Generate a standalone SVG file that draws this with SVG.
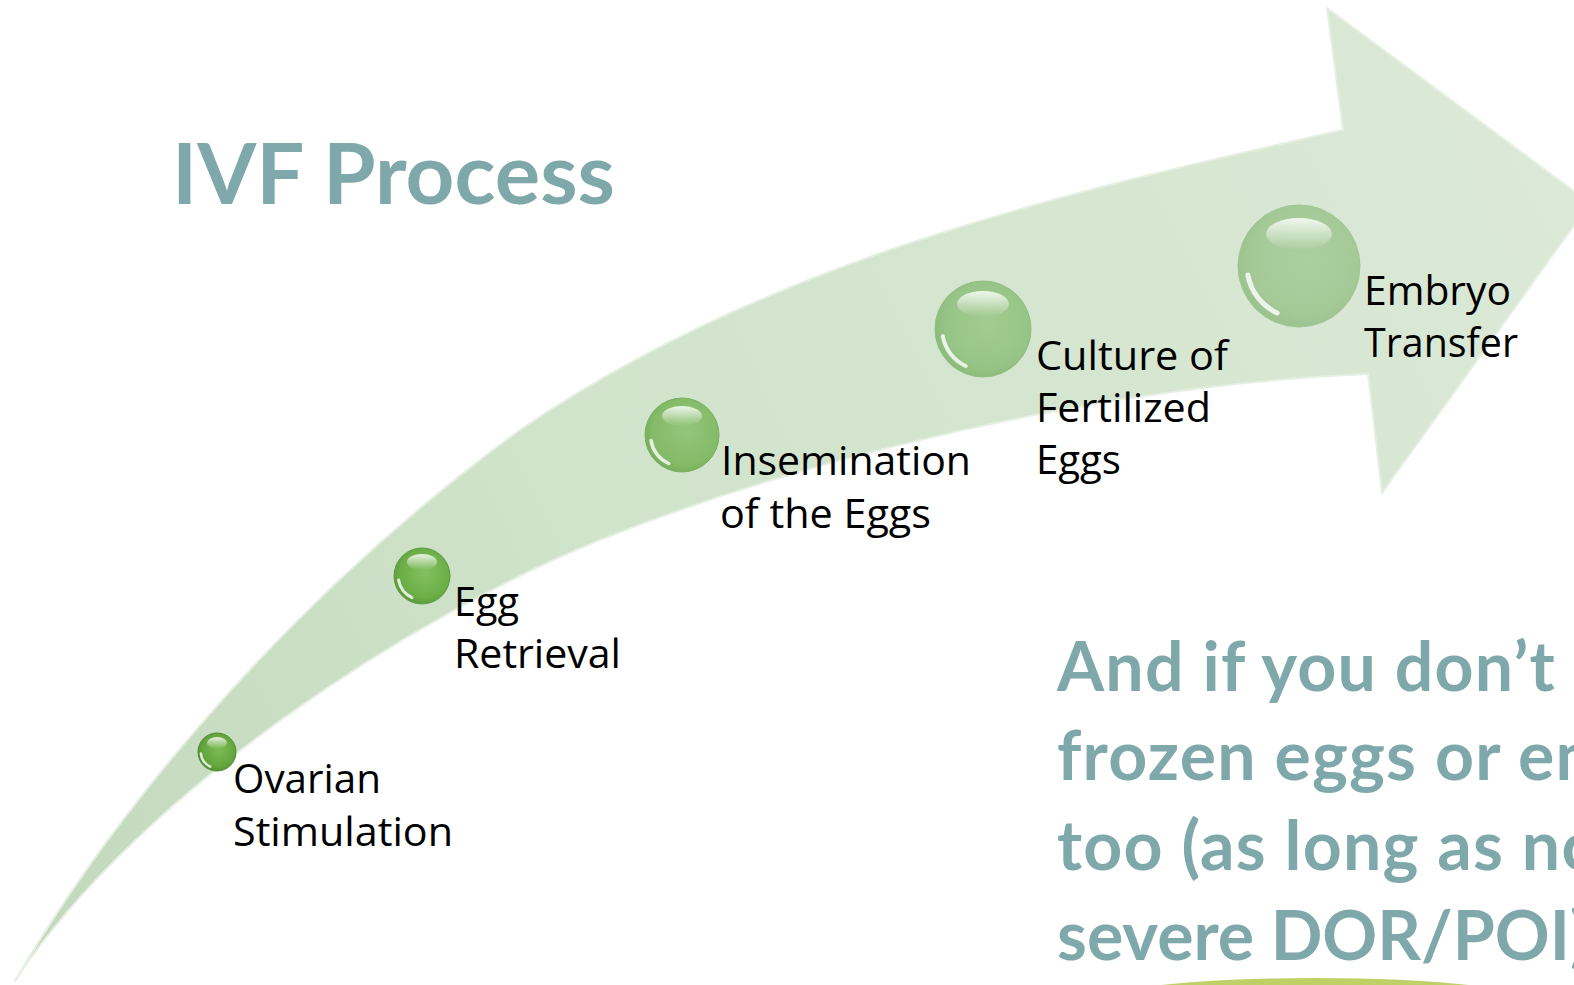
<svg xmlns="http://www.w3.org/2000/svg" width="1574" height="985" viewBox="0 0 1574 985">
  <style>
    .title { font-family: Lato, "Open Sans", "Liberation Sans", sans-serif; font-weight: 700; fill: #7FA8AB; }
    .note { font-family: Lato, "Open Sans", "Liberation Sans", sans-serif; font-weight: 700; fill: #7FA8AB; font-size: 68px; letter-spacing: 1.2px; }
    .label { font-family: "Open Sans", "Liberation Sans", sans-serif; font-size: 40px; fill: #000000; }
    .crescent { fill: none; stroke: #ffffff; stroke-linecap: round; opacity: 0.8; }
  </style>
  <defs>
    <linearGradient id="arrowFill" x1="15" y1="981" x2="1590" y2="200" gradientUnits="userSpaceOnUse">
      <stop offset="0" stop-color="#c2d8bc"/>
      <stop offset="0.4" stop-color="#d0e3cb"/>
      <stop offset="1" stop-color="#dbe9d6"/>
    </linearGradient>
    <linearGradient id="hl" x1="0" y1="0" x2="0" y2="1">
      <stop offset="0" stop-color="#ffffff" stop-opacity="0.85"/>
      <stop offset="1" stop-color="#ffffff" stop-opacity="0"/>
    </linearGradient>
    <radialGradient id="b1" cx="0.55" cy="0.45" r="0.6">
      <stop offset="0" stop-color="#7dbb55"/>
      <stop offset="0.75" stop-color="#62a43c"/>
      <stop offset="1" stop-color="#4b8a2c"/>
    </radialGradient>
    <radialGradient id="b2" cx="0.55" cy="0.45" r="0.6">
      <stop offset="0" stop-color="#84c060"/>
      <stop offset="0.75" stop-color="#6aad46"/>
      <stop offset="1" stop-color="#579738"/>
    </radialGradient>
    <radialGradient id="b3" cx="0.55" cy="0.45" r="0.6">
      <stop offset="0" stop-color="#94c67a"/>
      <stop offset="0.75" stop-color="#84ba68"/>
      <stop offset="1" stop-color="#74ab58"/>
    </radialGradient>
    <radialGradient id="b4" cx="0.55" cy="0.45" r="0.6">
      <stop offset="0" stop-color="#a2cc92"/>
      <stop offset="0.75" stop-color="#96c486"/>
      <stop offset="1" stop-color="#88b878"/>
    </radialGradient>
    <radialGradient id="b5" cx="0.55" cy="0.45" r="0.6">
      <stop offset="0" stop-color="#accf9f"/>
      <stop offset="0.75" stop-color="#a4c997"/>
      <stop offset="1" stop-color="#98bf8b"/>
    </radialGradient>
    <linearGradient id="groundFade" x1="0" y1="0" x2="1" y2="0">
      <stop offset="0" stop-color="#c9d86f" stop-opacity="0"/>
      <stop offset="0.15" stop-color="#b7cb55" stop-opacity="0.9"/>
      <stop offset="0.85" stop-color="#b7cb55" stop-opacity="0.9"/>
      <stop offset="1" stop-color="#c9d86f" stop-opacity="0"/>
    </linearGradient>
  </defs>

  <rect x="0" y="0" width="1574" height="985" fill="#ffffff"/>

  <g id="arrow">
    <path d="M15,981 C120,800 300,590 520,430 C760,265 1050,195 1343,130 L1327,8 L1590,203 L1382,493 L1368,374 C1100,385 800,460 600,540 C420,612 140,790 15,981 Z"
          fill="url(#arrowFill)" stroke="#e6f0e2" stroke-width="2" stroke-linejoin="round"/>
  </g>

  <g id="title">
    <text class="title" x="172" y="204" font-size="84" textLength="443" lengthAdjust="spacingAndGlyphs">IVF Process</text>
  </g>

  <g id="node-ovarian">
    <circle cx="217" cy="752" r="19" fill="url(#b1)" stroke="#4d8a30" stroke-width="1"/>
    <ellipse cx="217" cy="743" rx="10" ry="6" fill="url(#hl)"/>
    <path class="crescent" d="M210.2,766.6 A16.15,16.15 0 0 1 200.9,753.4" stroke-width="2.5"/>
    <text class="label" x="233" y="793" textLength="148" lengthAdjust="spacingAndGlyphs">Ovarian</text>
    <text class="label" x="233" y="846" textLength="220" lengthAdjust="spacingAndGlyphs">Stimulation</text>
  </g>

  <g id="node-retrieval">
    <circle cx="422" cy="576" r="28" fill="url(#b2)" stroke="#5a9a3c" stroke-width="1"/>
    <ellipse cx="422" cy="562" rx="15" ry="8" fill="url(#hl)"/>
    <path class="crescent" d="M411.9,597.6 A23.8,23.8 0 0 1 398.6,580.1" stroke-width="3"/>
    <text class="label" x="454" y="616" textLength="65" lengthAdjust="spacingAndGlyphs">Egg</text>
    <text class="label" x="454" y="668" textLength="167" lengthAdjust="spacingAndGlyphs">Retrieval</text>
  </g>

  <g id="node-insemination">
    <circle cx="682" cy="435" r="37" fill="url(#b3)" stroke="#79b05e" stroke-width="1"/>
    <ellipse cx="682" cy="416" rx="20" ry="10" fill="url(#hl)"/>
    <path class="crescent" d="M668.7,463.5 A31.45,31.45 0 0 1 651.0,440.5" stroke-width="3.5"/>
    <text class="label" x="721" y="475" textLength="250" lengthAdjust="spacingAndGlyphs">Insemination</text>
    <text class="label" x="720" y="528" textLength="211" lengthAdjust="spacingAndGlyphs">of the Eggs</text>
  </g>

  <g id="node-culture">
    <circle cx="983" cy="329" r="48" fill="url(#b4)" stroke="#8fbe80" stroke-width="1"/>
    <ellipse cx="983" cy="304" rx="26" ry="13" fill="url(#hl)"/>
    <path class="crescent" d="M965.7,366.0 A40.8,40.8 0 0 1 942.8,336.1" stroke-width="4"/>
    <text class="label" x="1036" y="370" textLength="192" lengthAdjust="spacingAndGlyphs">Culture of</text>
    <text class="label" x="1036" y="422" textLength="175" lengthAdjust="spacingAndGlyphs">Fertilized</text>
    <text class="label" x="1036" y="474" textLength="85" lengthAdjust="spacingAndGlyphs">Eggs</text>
  </g>

  <g id="node-transfer">
    <circle cx="1299" cy="266" r="61" fill="url(#b5)" stroke="#a0c794" stroke-width="1"/>
    <ellipse cx="1299" cy="234" rx="33" ry="16" fill="url(#hl)"/>
    <path class="crescent" d="M1277.1,313.0 A51.85,51.85 0 0 1 1247.9,275.0" stroke-width="5"/>
    <text class="label" x="1364" y="305" textLength="147" lengthAdjust="spacingAndGlyphs">Embryo</text>
    <text class="label" x="1364" y="357" textLength="154" lengthAdjust="spacingAndGlyphs">Transfer</text>
  </g>

  <g id="connectors"></g>

  <g id="note">
    <text class="note" x="1057" y="691">And if you don’t</text>
    <text class="note" x="1057" y="780">frozen eggs or em</text>
    <text class="note" x="1057" y="870">too (as long as no</text>
    <text class="note" x="1057" y="960" style="letter-spacing:0px">severe DOR/POI)</text>
  </g>

  <g id="ground">
    <ellipse cx="1315" cy="1002" rx="218" ry="24" fill="url(#groundFade)"/>
  </g>
</svg>
